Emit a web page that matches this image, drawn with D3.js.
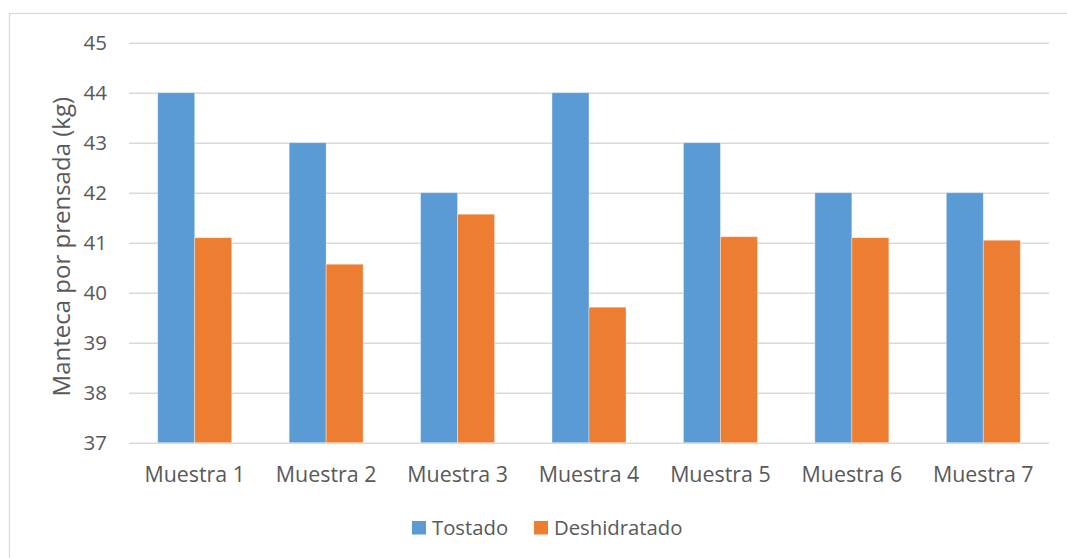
<!DOCTYPE html>
<html>
<head>
<meta charset="utf-8">
<script src="https://cdn.jsdelivr.net/npm/d3@7"></script>
<style>
  html, body { margin: 0; padding: 0; background: #fff; }
  svg { display: block; font-family: "Open Sans", "Liberation Sans", sans-serif; }
</style>
</head>
<body>
<svg id="chart" width="1067" height="558"></svg>
<script>
// Butter yield per pressing for each sample
const categories = ["Muestra 1", "Muestra 2", "Muestra 3", "Muestra 4", "Muestra 5", "Muestra 6", "Muestra 7"];
const seriesNames = ["Tostado", "Deshidratado"];
const tostado = [44, 43, 42, 44, 43, 42, 42];
const deshidratado = [41.1, 40.57, 41.57, 39.71, 41.12, 41.1, 41.05];
const yTicks = [37, 38, 39, 40, 41, 42, 43, 44, 45];
const colors = ["#5B9BD5", "#ED7D31"];
const yTitle = "Manteca por prensada (kg)";

const W = 1067, H = 558;
const margin = { left: 129, right: 18, top: 42.7, bottom: 115.3 };
const textColor = "#595959";
const gridColor = "#D9D9D9";
const fontFamily = '"Open Sans", "Liberation Sans", sans-serif';

const svg = d3.select("#chart");

// chart frame
svg.append("rect")
  .attr("x", 9.5).attr("y", 13.5)
  .attr("width", W + 10).attr("height", H + 10)
  .attr("fill", "#fff").attr("stroke", gridColor).attr("stroke-width", 1.3);

const x0 = d3.scaleBand()
  .domain(categories)
  .range([margin.left, W - margin.right])
  .paddingInner(0.437)
  .paddingOuter(0.2185);

const x1 = d3.scaleBand()
  .domain(seriesNames)
  .range([0, x0.bandwidth()]);

const y = d3.scaleLinear()
  .domain([37, 45])
  .range([H - margin.bottom, margin.top]);

// horizontal gridlines and value labels
const yAxis = d3.axisLeft(y)
  .tickValues(yTicks)
  .tickSize(-(W - margin.right - margin.left))
  .tickPadding(22)
  .tickFormat(d3.format("d"));

const gy = svg.append("g")
  .attr("transform", `translate(${margin.left},0)`)
  .call(yAxis)
  .attr("font-family", fontFamily);
gy.select(".domain").remove();
gy.selectAll(".tick line").attr("stroke", gridColor).attr("stroke-width", 1.4);
gy.selectAll(".tick text")
  .attr("fill", textColor)
  .style("font-size", "20.5px")
  .attr("dy", "0.35em");

// bars
const values = [tostado, deshidratado];
const groups = svg.append("g").selectAll("g")
  .data(categories)
  .join("g")
  .attr("transform", d => `translate(${x0(d)},0)`);

groups.selectAll("rect")
  .data((c, i) => seriesNames.map((s, k) => ({ s, k, v: values[k][i] })))
  .join("rect")
  .attr("x", d => x1(d.s))
  .attr("width", x1.bandwidth())
  .attr("y", d => y(d.v))
  .attr("height", d => y(37) - y(d.v))
  .attr("fill", d => colors[d.k])
  .attr("stroke", "rgba(255,255,255,0.45)")
  .attr("stroke-width", 0.8);

// category labels
const xAxis = d3.axisBottom(x0).tickSize(0).tickPadding(24);
const gx = svg.append("g")
  .attr("transform", `translate(0,${y(37)})`)
  .call(xAxis)
  .attr("font-family", fontFamily);
gx.select(".domain").remove();
gx.selectAll(".tick text")
  .attr("fill", textColor)
  .style("font-size", "21.4px");

// axis title
svg.append("text")
  .attr("transform", `translate(70,${(y(37) + y(45)) / 2 + 4}) rotate(-90)`)
  .attr("text-anchor", "middle")
  .attr("fill", textColor)
  .style("font-size", "24px")
  .text(yTitle);

// legend
const legendItems = [
  { name: seriesNames[0], color: colors[0], x: 412 },
  { name: seriesNames[1], color: colors[1], x: 534 }
];
const lg = svg.append("g").selectAll("g")
  .data(legendItems)
  .join("g")
  .attr("transform", d => `translate(${d.x},521)`);
lg.append("rect")
  .attr("width", 14).attr("height", 13.5)
  .attr("fill", d => d.color);
lg.append("text")
  .attr("x", 20).attr("y", 7).attr("dy", "0.35em")
  .attr("fill", textColor)
  .style("font-size", "20.3px")
  .text(d => d.name);
</script>
</body>
</html>
